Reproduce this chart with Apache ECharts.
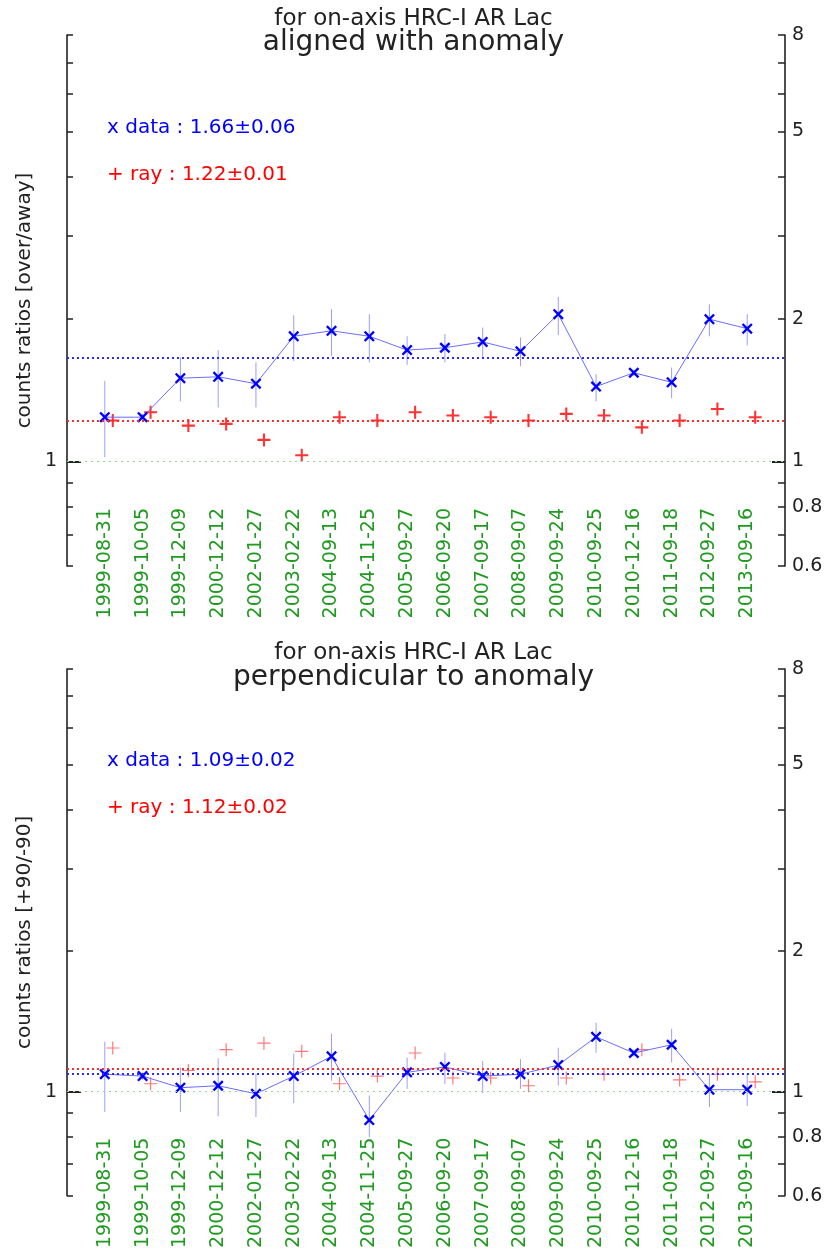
<!DOCTYPE html>
<html>
<head>
<meta charset="utf-8">
<title>HRC-I AR Lac counts ratios</title>
<script src="https://cdn.jsdelivr.net/npm/echarts@6/dist/echarts.min.js"></script>
<style>
  html, body { margin: 0; padding: 0; background: #fff; }
  #main { width: 827px; height: 1251px; }
</style>
</head>
<body>
<div id="main"></div>
<script>
// observation dates (x categories)
var dates = ['1999-08-31', '1999-10-05', '1999-12-09', '2000-12-12', '2002-01-27', '2003-02-22',
  '2004-09-13', '2004-11-25', '2005-09-27', '2006-09-20', '2007-09-17', '2008-09-07',
  '2009-09-24', '2010-09-25', '2010-12-16', '2011-09-18', '2012-09-27', '2013-09-16'];

// upper panel: aligned with anomaly [over/away]
var alignedData = [1.24, 1.24, 1.50, 1.51, 1.46, 1.84, 1.89, 1.84, 1.72, 1.74, 1.79, 1.71, 2.05, 1.44, 1.54, 1.47, 2.00, 1.91];
var alignedLo = [1.02, 1.22, 1.34, 1.30, 1.30, 1.63, 1.67, 1.62, 1.60, 1.62, 1.66, 1.59, 1.85, 1.34, 1.52, 1.36, 1.84, 1.76];
var alignedHi = [1.48, 1.26, 1.66, 1.72, 1.62, 2.04, 2.10, 2.05, 1.84, 1.86, 1.92, 1.83, 2.23, 1.53, 1.56, 1.58, 2.15, 2.05];
var alignedRay = [1.22, 1.27, 1.19, 1.20, 1.11, 1.03, 1.24, 1.22, 1.27, 1.25, 1.24, 1.22, 1.26, 1.25, 1.18, 1.22, 1.29, 1.24];
var alignedMean = { data: 1.66, dataErr: 0.06, ray: 1.22, rayErr: 0.01 };

// lower panel: perpendicular to anomaly [+90/-90]
var perpData = [1.09, 1.08, 1.02, 1.03, 0.99, 1.08, 1.19, 0.87, 1.10, 1.13, 1.08, 1.09, 1.14, 1.31, 1.21, 1.26, 1.01, 1.01];
var perpLo = [0.905, 1.06, 0.905, 0.886, 0.883, 0.946, 1.056, 0.80, 1.014, 1.039, 0.993, 1.014, 1.031, 1.212, 1.19, 1.155, 0.927, 0.932];
var perpHi = [1.279, 1.10, 1.127, 1.179, 1.091, 1.206, 1.33, 0.982, 1.183, 1.212, 1.164, 1.174, 1.242, 1.404, 1.23, 1.363, 1.091, 1.091];
var perpRay = [1.24, 1.04, 1.11, 1.23, 1.27, 1.22, 1.04, 1.08, 1.21, 1.07, 1.07, 1.03, 1.07, 1.09, 1.23, 1.06, 1.09, 1.05];
var perpMean = { data: 1.09, dataErr: 0.02, ray: 1.12, rayErr: 0.02 };

// y axis ticks / labels
var yMin = 0.6, yMax = 8;
var minorTicks = [0.6, 0.7, 0.8, 0.9, 2, 3, 4, 5, 6, 7, 8];
var majorTicks = [1];
var rightLabels = [0.6, 0.8, 2, 5, 8];

var FONT = 'DejaVu Sans';
var xSym = 'path://M1.5,0L5,3.5L8.5,0L10,1.5L6.5,5L10,8.5L8.5,10L5,6.5L1.5,10L0,8.5L3.5,5L0,1.5Z';
var plusBold = 'path://M4.2,0H5.8V4.2H10V5.8H5.8V10H4.2V5.8H0V4.2H4.2Z';
var plusThin = 'path://M4.55,0H5.45V4.55H10V5.45H5.45V10H4.55V5.45H0V4.55H4.55Z';

// padded categories so the first/last point sit one step in from the axes
var cats = [''].concat(dates).concat([' ']);

function fmt(v) {
  return String(Math.round(v * 10) / 10);
}

function yAxes(gi, name) {
  var base = {
    type: 'log', logBase: 10, gridIndex: gi, min: yMin, max: yMax,
    splitLine: { show: false }
  };
  return [
    Object.assign({}, base, {
      position: 'left',
      name: name, nameLocation: 'middle', nameGap: 32, nameRotate: 90,
      nameTextStyle: { fontFamily: FONT, fontSize: 20, color: '#222' },
      axisLine: { show: true, lineStyle: { color: '#222', width: 1.6 } },
      axisTick: { show: true, inside: true, length: 6, customValues: minorTicks, lineStyle: { color: '#222', width: 1.5 } },
      axisLabel: { show: false }
    }),
    Object.assign({}, base, {
      position: 'left',
      axisLine: { show: false },
      axisTick: { show: true, inside: true, length: 14, customValues: majorTicks, lineStyle: { color: '#222', width: 2 } },
      axisLabel: { show: true, customValues: majorTicks, margin: 10, formatter: fmt, fontFamily: FONT, fontSize: 19, color: '#222' }
    }),
    Object.assign({}, base, {
      position: 'right',
      axisLine: { show: true, lineStyle: { color: '#222', width: 1.6 } },
      axisTick: { show: true, inside: true, length: 7, customValues: minorTicks, lineStyle: { color: '#222', width: 1.5 } },
      axisLabel: { show: true, customValues: rightLabels, margin: 7, formatter: fmt, fontFamily: FONT, fontSize: 19, color: '#222' }
    }),
    Object.assign({}, base, {
      position: 'right',
      axisLine: { show: false },
      axisTick: { show: true, inside: true, length: 13, customValues: majorTicks, lineStyle: { color: '#222', width: 2 } },
      axisLabel: { show: true, customValues: majorTicks, margin: 7, formatter: fmt, fontFamily: FONT, fontSize: 19, color: '#222' }
    })
  ];
}

function xAxis(gi) {
  return {
    type: 'category', gridIndex: gi, data: cats, boundaryGap: false,
    offset: -58,
    axisLine: { show: false }, axisTick: { show: false }, splitLine: { show: false },
    axisLabel: { interval: 0, rotate: 90, margin: 0, fontFamily: FONT, fontSize: 19, color: '#1e9a1e' }
  };
}

function panelSeries(gi, vals, lo, hi, ray, mean, plusSym, rayColor) {
  var yi = gi * 4;
  var errData = dates.map(function (d, i) { return [d, lo[i], hi[i]]; });
  return [
    {
      type: 'custom', xAxisIndex: gi, yAxisIndex: yi, z: 2, silent: true,
      data: errData,
      renderItem: function (params, api) {
        var p1 = api.coord([api.value(0), api.value(1)]);
        var p2 = api.coord([api.value(0), api.value(2)]);
        return {
          type: 'line',
          shape: { x1: p1[0], y1: p1[1], x2: p2[0], y2: p2[1] },
          style: { stroke: '#9c9cff', lineWidth: 1 }
        };
      }
    },
    {
      type: 'line', xAxisIndex: gi, yAxisIndex: yi, z: 4,
      data: dates.map(function (d, i) { return [d, vals[i]]; }),
      symbol: xSym, symbolSize: 11,
      itemStyle: { color: '#0000ff' },
      lineStyle: { color: '#6c6cff', width: 1 },
      markLine: {
        silent: true, symbol: 'none', label: { show: false },
        data: [
          { yAxis: 1, lineStyle: { color: '#8fd88f', width: 1, type: [2, 4] } },
          { yAxis: mean.data, lineStyle: { color: '#2a2aff', width: 2, type: [2, 3] } },
          { yAxis: mean.ray, lineStyle: { color: '#ff2a2a', width: 2, type: [2, 3] } }
        ]
      }
    },
    {
      type: 'scatter', xAxisIndex: gi, yAxisIndex: yi, z: 3,
      data: dates.map(function (d, i) { return [d, ray[i]]; }),
      symbol: plusSym, symbolSize: 13, symbolOffset: [8, 0],
      itemStyle: { color: rayColor }
    }
  ];
}

function textBox(text, left, top, size, color) {
  return { text: text, left: left, top: top, textStyle: { fontFamily: FONT, fontSize: size, fontWeight: 'normal', color: color } };
}

var chart = echarts.init(document.getElementById('main'));

var option = {
  backgroundColor: '#fff',
  animation: false,
  title: [
    textBox('for on-axis HRC-I AR Lac', 'center', 3, 23, '#222'),
    textBox('aligned with anomaly', 'center', 24, 28, '#222'),
    textBox('x data : ' + alignedMean.data.toFixed(2) + '±' + alignedMean.dataErr.toFixed(2), 102, 113, 20, '#0000ff'),
    textBox('+ ray : ' + alignedMean.ray.toFixed(2) + '±' + alignedMean.rayErr.toFixed(2), 102, 160, 20, '#ff0000'),
    textBox('for on-axis HRC-I AR Lac', 'center', 637, 23, '#222'),
    textBox('perpendicular to anomaly', 'center', 659, 28, '#222'),
    textBox('x data : ' + perpMean.data.toFixed(2) + '±' + perpMean.dataErr.toFixed(2), 102, 746, 20, '#0000ff'),
    textBox('+ ray : ' + perpMean.ray.toFixed(2) + '±' + perpMean.rayErr.toFixed(2), 102, 793, 20, '#ff0000')
  ],
  grid: [
    { left: 67, right: 42, top: 35, height: 531 },
    { left: 67, right: 42, top: 669, height: 530 }
  ],
  xAxis: [xAxis(0), xAxis(1)],
  yAxis: yAxes(0, 'counts ratios [over/away]').concat(yAxes(1, 'counts ratios [+90/-90]')),
  series: panelSeries(0, alignedData, alignedLo, alignedHi, alignedRay, alignedMean, plusBold, '#ff0000')
    .concat(panelSeries(1, perpData, perpLo, perpHi, perpRay, perpMean, plusThin, '#ff5555'))
};

chart.setOption(option);
</script>
</body>
</html>
